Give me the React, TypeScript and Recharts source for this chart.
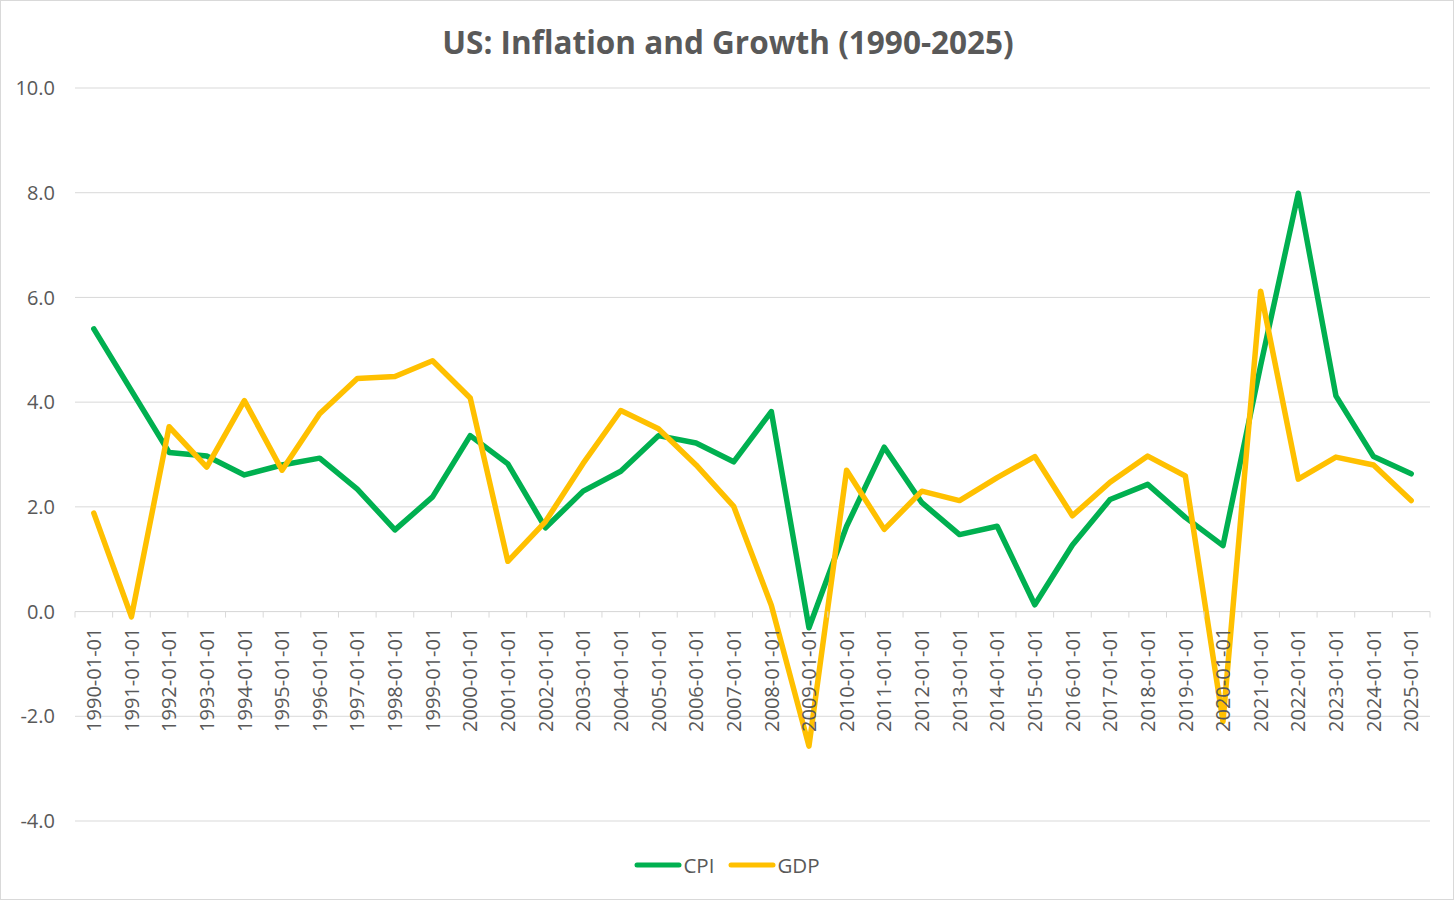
import React from "react";
import {
  LineChart,
  Line,
  XAxis,
  YAxis,
  CartesianGrid,
  ReferenceLine,
  Legend,
} from "recharts";

// yearly values
const years = [
  "1990-01-01", "1991-01-01", "1992-01-01", "1993-01-01", "1994-01-01", "1995-01-01",
  "1996-01-01", "1997-01-01", "1998-01-01", "1999-01-01", "2000-01-01", "2001-01-01",
  "2002-01-01", "2003-01-01", "2004-01-01", "2005-01-01", "2006-01-01", "2007-01-01",
  "2008-01-01", "2009-01-01", "2010-01-01", "2011-01-01", "2012-01-01", "2013-01-01",
  "2014-01-01", "2015-01-01", "2016-01-01", "2017-01-01", "2018-01-01", "2019-01-01",
  "2020-01-01", "2021-01-01", "2022-01-01", "2023-01-01", "2024-01-01", "2025-01-01",
];

const cpi = [
  5.4, 4.22, 3.04, 2.97, 2.61, 2.8, 2.93, 2.34, 1.56, 2.19, 3.36, 2.82,
  1.6, 2.3, 2.68, 3.36, 3.22, 2.86, 3.82, -0.31, 1.63, 3.14, 2.08, 1.47,
  1.63, 0.13, 1.27, 2.14, 2.43, 1.8, 1.26, 4.7, 7.99, 4.12, 2.96, 2.63,
];

const gdp = [
  1.88, -0.1, 3.53, 2.76, 4.03, 2.7, 3.78, 4.45, 4.49, 4.79, 4.08, 0.96,
  1.72, 2.83, 3.84, 3.49, 2.8, 2.01, 0.12, -2.57, 2.7, 1.57, 2.3, 2.12,
  2.56, 2.96, 1.83, 2.47, 2.97, 2.59, -2.1, 6.12, 2.53, 2.95, 2.8, 2.12,
];

const yTicks = [-4, -2, 0, 2, 4, 6, 8, 10];

const data = years.map((year, i) => ({ year, CPI: cpi[i], GDP: gdp[i] }));

const CHART_W = 1454;
const CHART_H = 900;
const MARGIN = { top: 88, right: 24, left: 15, bottom: 78 };
const Y_AXIS_W = 60;
const X_AXIS_H = 1;
const PLOT_W = CHART_W - MARGIN.left - MARGIN.right - Y_AXIS_W;
const PLOT_H = CHART_H - MARGIN.top - MARGIN.bottom - X_AXIS_H;
const Y_MIN = yTicks[0];
const Y_MAX = yTicks[yTicks.length - 1];
// category axis crosses the value axis at 0, like Excel does
const ZERO_Y = MARGIN.top + (PLOT_H * Y_MAX) / (Y_MAX - Y_MIN);
const BAND = PLOT_W / years.length;

const TEXT = "#595959";
const GRID = "#d9d9d9";
const FONT = "'Open Sans', sans-serif";

function YearTick(props: any) {
  const { x, payload, index } = props;
  const isLast = index === years.length - 1;
  return (
    <g>
      <line x1={x - BAND / 2} x2={x - BAND / 2} y1={ZERO_Y} y2={ZERO_Y + 6} stroke={GRID} />
      {isLast && (
        <line x1={x + BAND / 2} x2={x + BAND / 2} y1={ZERO_Y} y2={ZERO_Y + 6} stroke={GRID} />
      )}
      <text
        x={x}
        y={ZERO_Y + 16}
        transform={`rotate(-90, ${x}, ${ZERO_Y + 16})`}
        textAnchor="end"
        dy="0.36em"
        fill={TEXT}
        fontSize={20}
        fontFamily={FONT}
      >
        {payload.value}
      </text>
    </g>
  );
}

function LegendContent(props: any) {
  const items = props.payload || [];
  return (
    <div style={{ display: "flex", justifyContent: "center", alignItems: "center", gap: 14, fontFamily: FONT }}>
      {items.map((item: any) => (
        <div key={item.value} style={{ display: "flex", alignItems: "center" }}>
          <svg width={48} height={10} style={{ marginRight: 1 }}>
            <line x1={3} x2={45} y1={5} y2={5} stroke={item.color} strokeWidth={5} strokeLinecap="round" />
          </svg>
          <span style={{ color: TEXT, fontSize: 20.5 }}>{item.value}</span>
        </div>
      ))}
    </div>
  );
}

export default function App() {
  return (
    <div
      style={{
        position: "absolute",
        left: 0,
        top: 0,
        width: CHART_W,
        height: CHART_H,
        border: `1px solid ${GRID}`,
        boxSizing: "border-box",
        background: "#fff",
        fontFamily: FONT,
      }}
    >
      <div
        style={{
          position: "absolute",
          top: 19,
          left: 0,
          width: CHART_W,
          textAlign: "center",
          color: TEXT,
          fontWeight: 700,
          fontSize: 31.5,
          lineHeight: "44px",
        }}
      >
        US: Inflation and Growth (1990-2025)
      </div>
      <div style={{ position: "absolute", left: -1, top: -1 }}>
        <LineChart width={CHART_W} height={CHART_H} data={data} margin={MARGIN}>
          <CartesianGrid vertical={false} stroke={GRID} strokeWidth={1} />
          <ReferenceLine y={0} stroke={GRID} strokeWidth={1} />
          <XAxis
            dataKey="year"
            height={X_AXIS_H}
            axisLine={false}
            tickLine={false}
            interval={0}
            padding={{ left: BAND / 2, right: BAND / 2 }}
            tick={<YearTick />}
          />
          <YAxis
            width={Y_AXIS_W}
            domain={[Y_MIN, Y_MAX]}
            ticks={yTicks}
            tickFormatter={(v: number) => v.toFixed(1)}
            axisLine={false}
            tickLine={false}
            tickSize={0}
            tickMargin={20}
            tick={{ fill: TEXT, fontSize: 20, fontFamily: FONT }}
          />
          <Legend
            layout="horizontal"
            verticalAlign="middle"
            align="center"
            content={<LegendContent />}
            wrapperStyle={{ top: 851, left: 0, width: CHART_W }}
          />
          <Line
            type="linear"
            dataKey="CPI"
            stroke="#00b050"
            strokeWidth={5.5}
            strokeLinejoin="round"
            strokeLinecap="round"
            dot={false}
            isAnimationActive={false}
          />
          <Line
            type="linear"
            dataKey="GDP"
            stroke="#ffc000"
            strokeWidth={5.5}
            strokeLinejoin="round"
            strokeLinecap="round"
            dot={false}
            isAnimationActive={false}
          />
        </LineChart>
      </div>
    </div>
  );
}
